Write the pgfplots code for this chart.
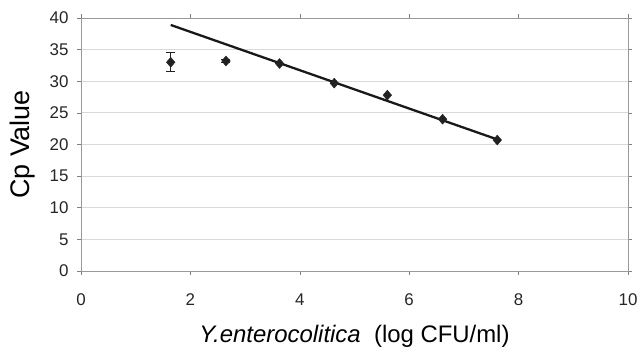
\documentclass[border=0pt]{standalone}
\usepackage{pgfplots}
\pgfplotsset{compat=1.18}
\usepackage{fontspec}
\setmainfont{Liberation Sans}
\definecolor{pt}{HTML}{222222}
\begin{document}
\begin{tikzpicture}[x=1bp,y=1bp]
\begin{axis}[
  name=ax,
  scale only axis,
  width=547bp, height=253bp,
  xmin=0, xmax=10, ymin=0, ymax=40,
  xtick={0,2,...,10}, ytick={0,5,...,40},
  /pgf/number format/assume math mode=true,
  tick label style={font=\fontsize{17}{17}\selectfont, text=black!85},
  tick align=outside, tick style={gray, line width=0.6pt},
  major tick length=4bp,
  axis line style={gray!80, line width=0.8pt},
  ymajorgrids, grid style={gray!30, line width=0.8pt},
  xlabel={\textit{Y.enterocolitica}\ \ (log CFU/ml)},
  ylabel={Cp Value},
  xlabel style={font=\fontsize{24}{24}\selectfont, at={([yshift=-72bp]axis description cs:0.5,0)}, anchor=base},
  ylabel style={font=\fontsize{27}{27}\selectfont, at={([xshift=-58bp]axis description cs:0,0.5)}, anchor=center, rotate=0},
  x tick label style={yshift=-15bp},
  y tick label style={xshift=-5bp},
  clip=false,
]
\addplot[black!90, line width=2.3pt] coordinates {(1.64,38.9) (7.61,20.8)};
\addplot[only marks, mark=diamond*, mark size=5pt, mark options={xscale=1.15}, color=pt,
  error bars/.cd, y dir=both, y explicit,
  error bar style={line width=1.1pt, color=pt},
  error mark options={rotate=90, mark size=4.5pt, line width=1.1pt}]
  coordinates {
  (1.64,33.0) +- (0,1.5)
  (2.65,33.2) +- (0,0.3)
  };
\addplot[only marks, mark=diamond*, mark size=5pt, mark options={xscale=1.15}, color=pt]
  coordinates {
  (3.63,32.8)
  (4.63,29.7)
  (5.60,27.8)
  (6.61,24.0)
  (7.61,20.7)
  };
\end{axis}
\pgfresetboundingbox
\path ([xshift=-81bp,yshift=-79bp]ax.south west) rectangle ([xshift=9bp,yshift=18bp]ax.north east);
\end{tikzpicture}
\end{document}
